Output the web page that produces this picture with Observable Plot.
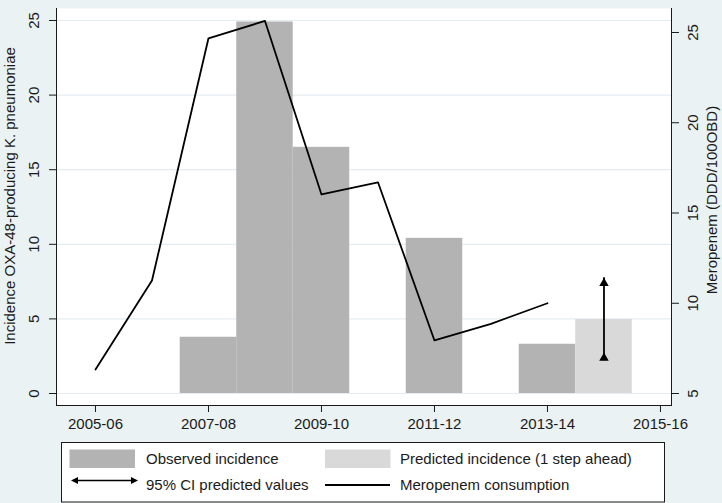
<!DOCTYPE html>
<html>
<head>
<meta charset="utf-8">
<script src="https://cdn.jsdelivr.net/npm/d3@7"></script>
<script src="https://cdn.jsdelivr.net/npm/@observablehq/plot@0.6"></script>
<style>
  html, body { margin: 0; padding: 0; background: #eaf2f3; }
  #chart { width: 722px; height: 503px; overflow: hidden; }
  svg { display: block; }
</style>
</head>
<body>
<div id="chart"></div>
<script>
// ---- data ----
const tickYears = [2005, 2007, 2009, 2011, 2013, 2015];
const tickLabels = ["2005-06", "2007-08", "2009-10", "2011-12", "2013-14", "2015-16"];

const obsYears = [2007, 2008, 2009, 2011, 2013];
const obsIncidence = [3.77, 24.9, 16.5, 10.4, 3.3];

const predYears = [2014];
const predIncidence = [4.96];
const ciLow = [2.2];
const ciHigh = [7.75];

const meroYears = [2005, 2006, 2007, 2008, 2009, 2010, 2011, 2012, 2013];
const meroValues = [6.33, 11.26, 24.68, 25.64, 16.03, 16.70, 7.94, 8.86, 10.0];

const leftTicks = [0, 5, 10, 15, 20, 25];
const rightTicks = [5, 10, 15, 20, 25];

const leftTitle = "Incidence OXA-48-producing K. pneumoniae";
const rightTitle = "Meropenem (DDD/100OBD)";
const legendLabels = ["Observed incidence", "Predicted incidence (1 step ahead)", "95% CI predicted values", "Meropenem consumption"];

// ---- secondary axis mapping (right axis 5..25 onto left-axis units) ----
const K = 18.05 / 14.92;
const toLeft = v => (v - 5) * K;

const obs = obsYears.map((year, i) => ({year, value: obsIncidence[i]}));
const pred = predYears.map((year, i) => ({year, value: predIncidence[i], lo: ciLow[i], hi: ciHigh[i]}));
const mero = meroYears.map((year, i) => ({year, value: toLeft(meroValues[i])}));
const rightTicksU = rightTicks.map(toLeft);

const font = "'Liberation Sans', Arial, Helvetica, sans-serif";
const ink = "#1a1a1a";

const plot = Plot.plot({
  width: 722,
  height: 436,
  marginLeft: 56,
  marginRight: 51,
  marginTop: 8,
  marginBottom: 31,
  style: {background: "transparent", fontFamily: font, fontSize: "15px", color: ink, overflow: "visible"},
  x: {domain: [2004.31, 2015.195]},
  y: {domain: [-0.804, 25.804]},
  marks: [
    Plot.frame({fill: "white", stroke: null}),
    Plot.gridY(leftTicks, {stroke: "#e4edf0", strokeOpacity: 1, strokeWidth: 1.2}),
    Plot.rectY(obs, {x1: d => d.year - 0.5, x2: d => d.year + 0.5, y1: 0, y2: "value", fill: "#b3b3b3"}),
    Plot.rectY(pred, {x1: d => d.year - 0.5, x2: d => d.year + 0.5, y1: 0, y2: "value", fill: "#d9d9d9"}),
    Plot.line(mero, {x: "year", y: "value", stroke: "#000", strokeWidth: 1.8}),
    Plot.ruleX(pred, {x: "year", y1: "lo", y2: "hi", stroke: "#000", strokeWidth: 1.8}),
    Plot.dot(pred, {x: "year", y: "hi", symbol: "triangle", r: 3.5, fill: "#000", stroke: null, dy: 5.3}),
    Plot.dot(pred, {x: "year", y: "lo", symbol: "triangle", r: 3.5, fill: "#000", stroke: null, dy: -2.7}),
    Plot.axisX(tickYears, {tickSize: 7, tickPadding: 6, tickFormat: d => tickLabels[tickYears.indexOf(d)], label: null, fill: ink}),
    Plot.axisY(leftTicks, {anchor: "left", tickSize: 7, tickRotate: -90, tickPadding: 10.5, label: null, fill: ink}),
    Plot.axisY(rightTicksU, {anchor: "right", tickSize: 7, tickRotate: -90, tickPadding: 19, label: null, fill: ink,
      tickFormat: u => rightTicks[rightTicksU.indexOf(u)]}),
    Plot.frame({anchor: "left", stroke: ink}),
    Plot.frame({anchor: "bottom", stroke: ink}),
    Plot.frame({anchor: "right", stroke: ink}),
    Plot.text([leftTitle], {frameAnchor: "left", textAnchor: "middle", lineAnchor: "middle", rotate: -90, dx: -46.5, dy: -11, fill: ink, fontSize: 15}),
    Plot.text([rightTitle], {frameAnchor: "right", textAnchor: "middle", lineAnchor: "middle", rotate: -90, dx: 40.5, dy: -7, fill: ink, fontSize: 15})
  ]
});
document.getElementById("chart").appendChild(plot);

// ---- legend (below the plot svg) ----
const lg = d3.select("#chart").append("svg")
  .attr("width", 722).attr("height", 67)
  .style("font-family", font).style("font-size", "15px");
lg.append("rect").attr("x", 61.5).attr("y", 6.5).attr("width", 603).attr("height", 59.5)
  .attr("fill", "white").attr("stroke", ink).attr("stroke-width", 1);
lg.append("rect").attr("x", 69.5).attr("y", 13.5).attr("width", 65.5).attr("height", 18.5).attr("fill", "#b3b3b3");
lg.append("rect").attr("x", 325).attr("y", 13.5).attr("width", 65.5).attr("height", 18.5).attr("fill", "#d9d9d9");
// double arrow
lg.append("line").attr("x1", 74).attr("x2", 135).attr("y1", 44.5).attr("y2", 44.5).attr("stroke", "#000").attr("stroke-width", 1.5);
lg.append("path").attr("d", "M71,44.5 L78,41 L78,48 Z").attr("fill", "#000");
lg.append("path").attr("d", "M138,44.5 L131,41 L131,48 Z").attr("fill", "#000");
// line
lg.append("line").attr("x1", 325).attr("x2", 390).attr("y1", 49).attr("y2", 49).attr("stroke", "#000").attr("stroke-width", 1.8);
const txt = [[146, 28], [400, 28], [146, 54], [400, 54]];
legendLabels.forEach((t, i) => {
  lg.append("text").attr("x", txt[i][0]).attr("y", txt[i][1]).attr("fill", ink).text(t);
});
</script>
</body>
</html>
